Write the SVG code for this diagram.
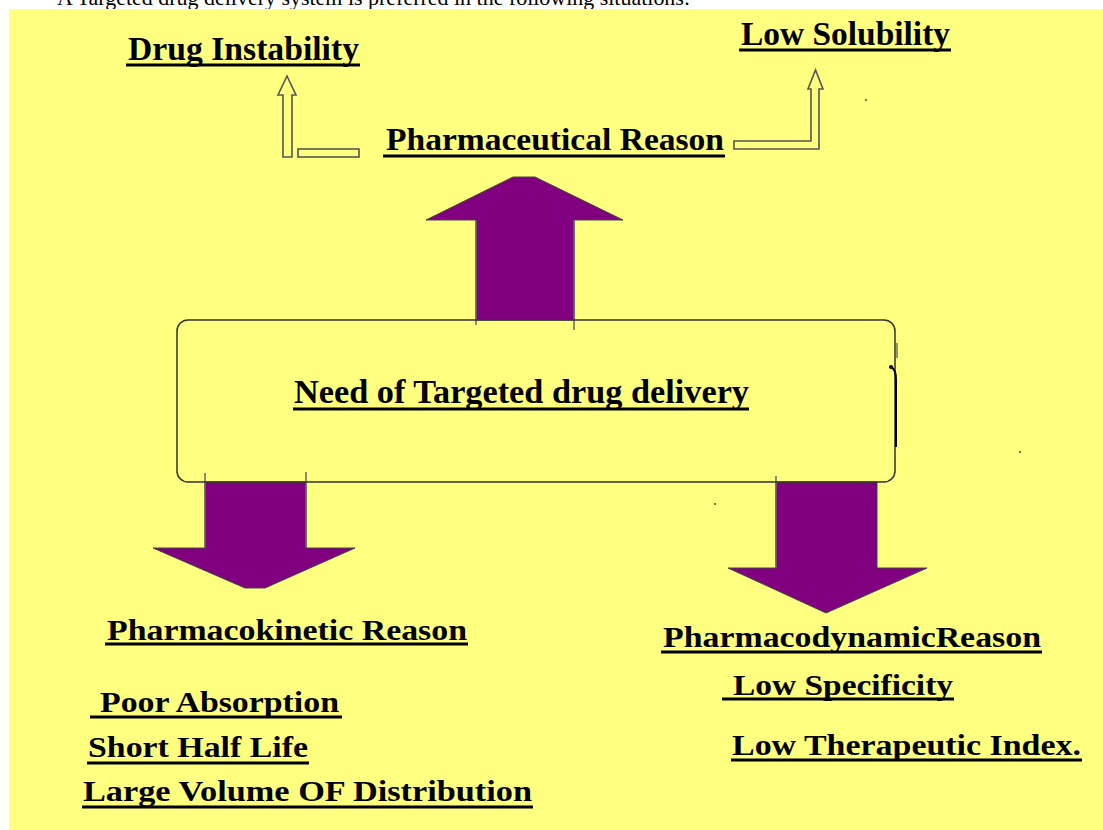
<svg xmlns="http://www.w3.org/2000/svg" width="1103" height="830" viewBox="0 0 1103 830">
  <style>
    .lbl { font-family: "Liberation Serif", "Times New Roman", serif; font-weight: bold; fill: #000; }
    .ul { stroke: #000; stroke-width: 3; }
    .big { fill: #800080; stroke: #444; stroke-width: 1; }
    .hollow { fill: none; stroke: #555; stroke-width: 1.6; stroke-linejoin: miter; }
    .edge { stroke: #666; stroke-width: 1.5; }
  </style>
  <rect x="0" y="0" width="1103" height="830" fill="#ffffff"/>
  <text x="57" y="5" font-family="Liberation Serif, Times New Roman, serif" font-size="21" textLength="633" lengthAdjust="spacingAndGlyphs" fill="#000">A Targeted drug delivery system is preferred in the following situations:</text>
  <rect x="9" y="9" width="1094" height="821" fill="#FFFF80"/>

  <g id="connectors">
    <polygon class="big" points="476,320 476,220 426,220 513,177 535,177 623,220 574,220 574,320"/>
    <line class="edge" x1="476" y1="220" x2="476" y2="325"/>
    <line class="edge" x1="574" y1="220" x2="574" y2="330"/>
    <polygon class="big" points="205,482 205,548 153,548 245,588 265,588 355,548 306,548 306,482"/>
    <line class="edge" x1="205" y1="473" x2="205" y2="548"/>
    <line class="edge" x1="306" y1="472" x2="306" y2="548"/>
    <polygon class="big" points="776,482 776,568 728,568 826,613 927,568 877,568 877,482"/>
    <line class="edge" x1="776" y1="476" x2="776" y2="568"/>
    <polygon class="hollow" points="283,157 283,95 278,95 287,76 296,95 292,95 292,157"/>
    <rect class="hollow" x="298" y="149" width="61" height="8"/>
    <polygon class="hollow" points="734,141 811,141 811,89 808,89 815.5,70 823,89 819,89 819,149 734,149"/>
  </g>

  <g id="node-main">
    <rect x="177" y="320" width="718" height="162" rx="11" ry="11" fill="none" stroke="#333" stroke-width="1.5"/>
    <line x1="897" y1="343" x2="897" y2="358" stroke="#333" stroke-width="1"/>
    <circle cx="891" cy="367" r="2" fill="#000"/>
    <path d="M891 367 Q896 369 896 380 L896 447" fill="none" stroke="#000" stroke-width="2"/>
    <text class="lbl" x="294" y="403" font-size="33" textLength="455" lengthAdjust="spacingAndGlyphs">Need of Targeted drug delivery</text>
    <line class="ul" x1="293" y1="409" x2="749" y2="409"/>
  </g>

  <g id="node-pharmaceutical">
    <text class="lbl" x="386" y="150" font-size="32" textLength="338" lengthAdjust="spacingAndGlyphs">Pharmaceutical Reason</text>
    <line class="ul" x1="383" y1="156" x2="725" y2="156"/>
  </g>

  <g id="node-drug-instability">
    <text class="lbl" x="128" y="60" font-size="33" textLength="231" lengthAdjust="spacingAndGlyphs">Drug Instability</text>
    <line class="ul" x1="126" y1="65" x2="360" y2="65"/>
  </g>

  <g id="node-low-solubility">
    <text class="lbl" x="741" y="45" font-size="33" textLength="209" lengthAdjust="spacingAndGlyphs">Low Solubility</text>
    <line class="ul" x1="739" y1="50" x2="951" y2="50"/>
  </g>

  <g id="node-pharmacokinetic">
    <text class="lbl" x="107" y="640" font-size="30" textLength="360" lengthAdjust="spacingAndGlyphs">Pharmacokinetic Reason</text>
    <line class="ul" x1="105" y1="644" x2="468" y2="644"/>
    <text class="lbl" x="100" y="712" font-size="30" textLength="239" lengthAdjust="spacingAndGlyphs">Poor Absorption</text>
    <line class="ul" x1="90" y1="717" x2="342" y2="717"/>
    <text class="lbl" x="88" y="757" font-size="30" textLength="220" lengthAdjust="spacingAndGlyphs">Short Half Life</text>
    <line class="ul" x1="87" y1="763" x2="309" y2="763"/>
    <text class="lbl" x="83" y="801" font-size="30" textLength="449" lengthAdjust="spacingAndGlyphs">Large Volume OF Distribution</text>
    <line class="ul" x1="82" y1="807" x2="533" y2="807"/>
  </g>

  <g id="node-pharmacodynamic">
    <text class="lbl" x="663" y="647" font-size="30" textLength="378" lengthAdjust="spacingAndGlyphs">PharmacodynamicReason</text>
    <line class="ul" x1="661" y1="652" x2="1042" y2="652"/>
    <text class="lbl" x="733" y="695" font-size="30" textLength="220" lengthAdjust="spacingAndGlyphs">Low Specificity</text>
    <line class="ul" x1="722" y1="699" x2="954" y2="699"/>
    <text class="lbl" x="732" y="755" font-size="30" textLength="349" lengthAdjust="spacingAndGlyphs">Low Therapeutic Index.</text>
    <line class="ul" x1="731" y1="760" x2="1082" y2="760"/>
  </g>

  <g id="specks" fill="#333">
    <circle cx="715" cy="504" r="0.9"/>
    <circle cx="1020" cy="452" r="0.9"/>
    <circle cx="866" cy="100" r="0.9"/>
  </g>
</svg>
